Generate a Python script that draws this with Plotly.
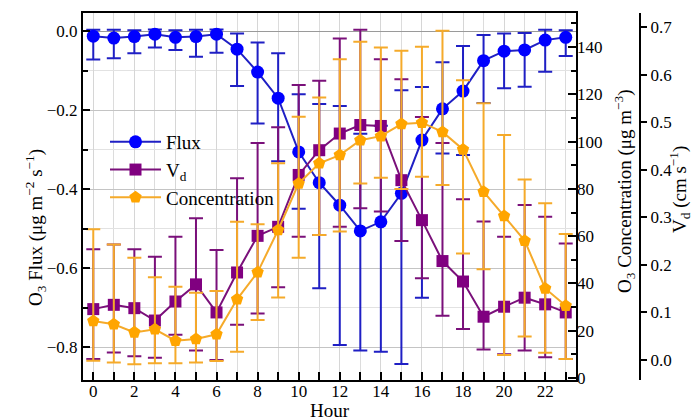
import plotly.graph_objects as go

hours = list(range(24))

flux = [-0.013, -0.018, -0.014, -0.008, -0.016, -0.014, -0.008, -0.046, -0.104, -0.170,
        -0.306, -0.384, -0.441, -0.506, -0.483, -0.411, -0.276, -0.197, -0.152, -0.075,
        -0.051, -0.048, -0.023, -0.016]
flux_hi = [0.003, 0.003, 0.002, 0.004, 0.002, 0.003, 0.004, -0.006, -0.029, -0.056,
           -0.160, -0.185, -0.190, -0.260, -0.240, -0.150, -0.142, -0.079, -0.038, -0.010,
           -0.006, -0.005, 0.003, 0.002]
flux_lo = [-0.072, -0.069, -0.056, -0.042, -0.048, -0.065, -0.055, -0.139, -0.234, -0.330,
           -0.450, -0.651, -0.795, -0.809, -0.812, -0.843, -0.675, -0.310, -0.314, -0.182,
           -0.145, -0.141, -0.103, -0.063]

vd = [0.107, 0.116, 0.109, 0.083, 0.123, 0.159, 0.100, 0.184, 0.261, 0.280,
      0.389, 0.441, 0.476, 0.494, 0.492, 0.378, 0.294, 0.208, 0.165, 0.091,
      0.112, 0.131, 0.117, 0.100]
vd_hi = [0.233, 0.243, 0.233, 0.217, 0.259, 0.298, 0.231, 0.382, 0.456, 0.489,
         0.578, 0.587, 0.676, 0.694, 0.632, 0.590, 0.511, 0.456, 0.338, 0.291,
         0.259, 0.326, 0.301, 0.245]
vd_lo = [0.002, 0.016, 0.008, 0.005, 0.053, 0.020, 0.000, 0.074, 0.098, 0.153,
         0.259, 0.263, 0.280, 0.319, 0.312, 0.250, 0.172, 0.093, 0.065, 0.022,
         0.012, 0.020, 0.006, 0.002]

conc = [24.1, 22.7, 19.3, 20.6, 15.8, 16.5, 18.5, 33.3, 44.7, 62.6,
        82.3, 90.8, 94.3, 100.6, 102.3, 107.4, 108.0, 104.1, 96.7, 78.8,
        68.5, 58.1, 37.9, 30.6]
conc_hi = [62.9, 56.5, 50.9, 42.6, 38.6, 36.1, 36.8, 66.1, 65.0, 90.8,
           110.5, 118.7, 134.8, 142.2, 139.8, 138.4, 140.1, 146.9, 126.0, 116.2,
           102.8, 84.0, 73.9, 60.9]
conc_lo = [7.3, 6.6, 5.8, 6.2, 6.2, 6.6, 7.2, 11.1, 24.5, 34.1,
           50.9, 60.5, 62.0, 82.3, 84.7, 80.0, 85.1, 81.6, 52.7, 46.0,
           9.7, 17.5, 10.7, 8.0]

x_ticks = list(range(0, 23, 2))

FONT = "Liberation Serif"
BLUE_M, BLUE_L = "#0000ff", "#1f1fc4"
PUR_M, PUR_L = "#800080", "#7a107a"
ORA_M, ORA_L = "#ffa500", "#f5aa2a"


def err(vals, hi, lo):
    return dict(type="data", symmetric=False,
                array=[h - v for h, v in zip(hi, vals)],
                arrayminus=[v - l for v, l in zip(vals, lo)])


fig = go.Figure()
fig.add_trace(go.Scatter(
    x=hours, y=flux, name="Flux", mode="lines+markers", yaxis="y",
    line=dict(color=BLUE_L, width=2),
    marker=dict(symbol="circle", size=13, color=BLUE_M),
    error_y={**err(flux, flux_hi, flux_lo), "color": BLUE_L, "thickness": 2, "width": 7},
))
fig.add_trace(go.Scatter(
    x=hours, y=vd, name="V<sub>d</sub>", mode="lines+markers", yaxis="y2",
    line=dict(color=PUR_L, width=2),
    marker=dict(symbol="square", size=12, color=PUR_M),
    error_y={**err(vd, vd_hi, vd_lo), "color": PUR_L, "thickness": 2, "width": 7},
))
fig.add_trace(go.Scatter(
    x=hours, y=conc, name="Concentration", mode="lines+markers", yaxis="y3",
    line=dict(color=ORA_L, width=2),
    marker=dict(symbol="pentagon", size=13, color=ORA_M),
    error_y={**err(conc, conc_hi, conc_lo), "color": ORA_L, "thickness": 2, "width": 7},
))

W, H = 694, 420
ML, MR, MT, MB = 83, 0, 13, 40
pw = W - ML - MR
ph = H - MT - MB
x_dom_end = (576 - ML) / pw


def px_x(p):
    return (p - ML) / pw


def px_y(p):
    return (H - MB - p) / ph


tickfont = dict(family=FONT, size=17, color="black")

fig.update_layout(
    width=W, height=H,
    margin=dict(l=ML, r=MR, t=MT, b=MB),
    paper_bgcolor="white", plot_bgcolor="white",
    font=dict(family=FONT, size=17, color="black"),
    showlegend=True,
    legend=dict(x=px_x(105), y=px_y(123), xanchor="left", yanchor="top",
                bgcolor="rgba(0,0,0,0)", font=dict(family=FONT, size=19),
                itemwidth=51, tracegroupgap=0),
    xaxis=dict(domain=[0, x_dom_end], range=[-0.5, 23.5],
               tickmode="array", tickvals=x_ticks, ticktext=[str(v) for v in x_ticks],
               ticks="inside", ticklen=8, tickwidth=1.5, tickcolor="black",
               ticklabelstandoff=-5,
               showline=True, linewidth=2, linecolor="black", mirror=True,
               showgrid=True, gridcolor="#d6d6d6", gridwidth=1, zeroline=False,
               minor=dict(dtick=1, tick0=0, ticks="inside", ticklen=8, tickwidth=1.5,
                          tickcolor="black", showgrid=True, gridcolor="#dcdcdc"),
               tickfont=tickfont),
    yaxis=dict(range=[-0.8835, 0.0456], tick0=0, dtick=0.2, tickformat=".1f",
               ticks="inside", ticklen=7, tickwidth=1.5, tickcolor="black",
               showline=True, linewidth=2, linecolor="black", mirror=True,
               showgrid=True, gridcolor="#c4c4c4", gridwidth=1,
               zeroline=True, zerolinecolor="#9a9a9a", zerolinewidth=1,
               minor=dict(dtick=0.1, tick0=0, ticks="inside", ticklen=5, tickwidth=1.5,
                          tickcolor="black", showgrid=True, gridcolor="#e2e2e2"),
               tickfont=tickfont),
    yaxis2=dict(overlaying="y", anchor="free", position=px_x(640), side="right",
                range=[-0.042, 0.7294], tick0=0, dtick=0.1, tickformat=".1f",
                ticks="outside", ticklen=6, tickwidth=1.5, tickcolor="black",
                showline=True, linewidth=2, linecolor="black",
                showgrid=False, zeroline=False, tickfont=tickfont),
    yaxis3=dict(overlaying="y", anchor="x", side="right",
                range=[-0.85, 154.4], tick0=0, dtick=20,
                ticks="inside", ticklen=8, tickwidth=1.5, tickcolor="black",
                showline=False, showgrid=False, zeroline=False,
                minor=dict(dtick=10, tick0=0, ticks="inside", ticklen=5, tickwidth=1.5,
                           tickcolor="black", showgrid=False),
                tickfont=tickfont),
)

title_font = dict(family=FONT, size=19, color="black")
fig.add_annotation(text="Hour", xref="paper", yref="paper",
                   x=px_x(330), y=px_y(410), showarrow=False, font=title_font,
                   xanchor="center", yanchor="middle")
fig.add_annotation(text="O<sub>3</sub> Flux (μg m<sup>−2</sup> s<sup>−1</sup>)",
                   xref="paper", yref="paper", x=px_x(35), y=px_y(228),
                   showarrow=False, textangle=-90, font=title_font,
                   xanchor="center", yanchor="middle")
fig.add_annotation(text="O<sub>3</sub> Concentration (μg m<sup>−3</sup>)",
                   xref="paper", yref="paper", x=px_x(625), y=px_y(191),
                   showarrow=False, textangle=-90, font=title_font,
                   xanchor="center", yanchor="middle")
fig.add_annotation(text="V<sub>d</sub> (cm s<sup>−1</sup>)",
                   xref="paper", yref="paper", x=px_x(679), y=px_y(190),
                   showarrow=False, textangle=-90, font=title_font,
                   xanchor="center", yanchor="middle")

fig.write_html("out.html")
